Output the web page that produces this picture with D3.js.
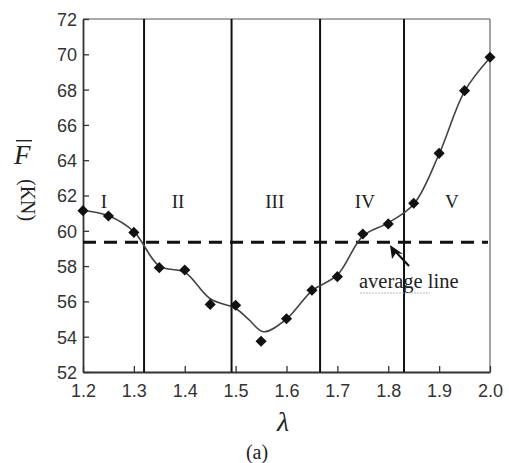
<!DOCTYPE html>
<html><head><meta charset="utf-8">
<script src="https://cdn.jsdelivr.net/npm/d3@7"></script>
<style>body{margin:0;background:#fff}svg{display:block}</style>
</head><body>
<script>
const lambda = [1.2,1.25,1.3,1.35,1.4,1.45,1.5,1.55,1.6,1.65,1.7,1.75,1.8,1.85,1.9,1.95,2.0];
const force  = [61.14,60.84,59.91,57.91,57.78,55.83,55.78,53.74,55.02,56.63,57.40,59.82,60.39,61.56,64.39,67.94,69.83];
const fitLambda = [1.2,1.25,1.3,1.35,1.4,1.45,1.5,1.525,1.555,1.6,1.65,1.7,1.75,1.8,1.85,1.9,1.95,2.0];
const fitForce  = [61.15,60.85,59.95,58.0,57.65,56.15,55.6,55.0,54.28,55.0,56.6,57.5,59.7,60.45,61.5,64.35,67.9,69.8];
const regionBounds = [1.32,1.492,1.666,1.831];
const regionLabels = ["I","II","III","IV","V"];
const regionLabelX = [1.241,1.387,1.577,1.754,1.925];
const averageLine = 59.35;
const xTicks = [1.2,1.3,1.4,1.5,1.6,1.7,1.8,1.9,2.0];
const yTicks = [52,54,56,58,60,62,64,66,68,70,72];

const W=509,H=463;
const svg=d3.select("body").append("svg").attr("width",W).attr("height",H);
const x=d3.scaleLinear().domain([1.2,2.0]).range([83,490]);
const y=d3.scaleLinear().domain([52,72]).range([372,19]);
const axisCol="#333";
const serif="Liberation Serif, Times New Roman, serif";

// frame top/right
svg.append("line").attr("x1",x(1.2)).attr("x2",x(2.0)).attr("y1",y(72)).attr("y2",y(72)).attr("stroke","#555").attr("stroke-width",1.2);
svg.append("line").attr("x1",x(2.0)).attr("x2",x(2.0)).attr("y1",y(72)).attr("y2",y(52)).attr("stroke","#666").attr("stroke-width",1.2);

// axes
const gx=svg.append("g").attr("transform",`translate(0,${y(52)})`)
  .call(d3.axisBottom(x).tickValues(xTicks).tickFormat(d3.format(".1f")).tickSizeInner(-6).tickSizeOuter(0).tickPadding(12));
const gy=svg.append("g").attr("transform",`translate(${x(1.2)},0)`)
  .call(d3.axisLeft(y).tickValues(yTicks).tickFormat(d3.format("d")).tickSizeInner(-6).tickSizeOuter(0).tickPadding(6));
[gx,gy].forEach(g=>{
  g.select(".domain").attr("stroke",axisCol).attr("stroke-width",1.8);
  g.selectAll(".tick line").attr("stroke",axisCol).attr("stroke-width",1.3);
  g.selectAll(".tick text").attr("fill","#333").attr("font-family","Liberation Sans, Arial, sans-serif").attr("font-size",18);
});
gy.selectAll(".tick text").attr("dy","0.36em");

// region boundaries
svg.selectAll(".rb").data(regionBounds).join("line")
  .attr("x1",d=>x(d)).attr("x2",d=>x(d)).attr("y1",y(72)).attr("y2",y(52))
  .attr("stroke","#111").attr("stroke-width",2);

// average dashed line
svg.append("line").attr("x1",x(1.2)).attr("x2",488).attr("y1",y(averageLine)).attr("y2",y(averageLine))
  .attr("stroke","#111").attr("stroke-width",3).attr("stroke-dasharray","13,8");

// fitted curve
const fit=fitLambda.map((d,i)=>[d,fitForce[i]]);
svg.append("path").datum(fit)
  .attr("d",d3.line().x(d=>x(d[0])).y(d=>y(d[1])).curve(d3.curveCatmullRom.alpha(0.5)))
  .attr("fill","none").attr("stroke","#444").attr("stroke-width",1.6);

// diamonds
const sym=d3.symbol().type(d3.symbolSquare).size(62);
svg.selectAll(".pt").data(lambda.map((d,i)=>[d,force[i]])).join("path")
  .attr("d",sym).attr("transform",d=>`translate(${x(d[0])},${y(d[1])}) rotate(45)`)
  .attr("fill","#111");

// region labels
svg.selectAll(".rl").data(regionLabels).join("text")
  .attr("x",(d,i)=>x(regionLabelX[i])).attr("y",208).attr("text-anchor","middle")
  .attr("font-family",serif).attr("font-size",19).attr("fill","#222")
  .text(d=>d);

// average line annotation
svg.append("text").attr("x",359).attr("y",288).attr("font-family",serif)
  .attr("font-size",20.5).attr("fill","#222").text("average line");
svg.append("line").attr("x1",360).attr("x2",430).attr("y1",293).attr("y2",293).attr("stroke","#bbb").attr("stroke-width",1).attr("stroke-dasharray","2,1");
svg.append("line").attr("x1",409).attr("y1",266).attr("x2",394).attr("y2",250).attr("stroke","#111").attr("stroke-width",2);
svg.append("path").attr("d","M390,245 L392,259 L396,253 L403,254 Z").attr("fill","#111");

// y label
svg.append("text").attr("x",14).attr("y",164).attr("font-family",serif)
  .attr("font-style","italic").attr("font-size",27).attr("fill","#222").text("F");
svg.append("rect").attr("x",16).attr("y",140).attr("width",16).attr("height",1.4).attr("fill","#222");
svg.append("text").attr("transform","translate(21,179) rotate(90)").attr("font-family",serif)
  .attr("font-size",20).attr("fill","#222").text("(KN)");

// x label
svg.append("text").attr("x",283).attr("y",431).attr("text-anchor","middle").attr("font-family",serif)
  .attr("font-style","italic").attr("font-size",28).attr("fill","#222").text("λ");
svg.append("text").attr("x",257).attr("y",459).attr("text-anchor","middle").attr("font-family",serif)
  .attr("font-size",20).attr("fill","#222").text("(a)");
</script>
</body></html>
